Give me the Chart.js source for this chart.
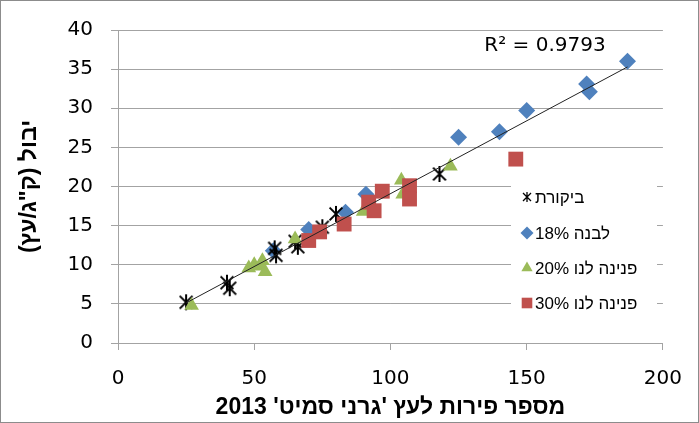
<!DOCTYPE html>
<html>
<head>
<meta charset="utf-8">
<script src="https://cdn.jsdelivr.net/npm/chart.js@4.4.1/dist/chart.umd.min.js"></script>
<style>
    html, body { margin: 0; padding: 0; background: #fff; }
    #wrap { width: 699px; height: 423px; }
</style>
</head>
<body>
<div id="wrap"><canvas id="yieldChart" dir="rtl" width="699" height="423"></canvas></div>
<script>
// ===== DATA =====
const seriesNames = ['ביקורת', 'לבנה 18%', 'פנינה לנו 20%', 'פנינה לנו 30%'];

const controlX = [25, 40, 41, 57.5, 58, 65, 66, 75, 80, 118];
const controlY = [5.2, 7.7, 7.0, 12.1, 11.2, 13.0, 12.3, 14.8, 16.5, 21.6];

const lavanX = [57, 70, 83.5, 91, 125, 140, 150, 172, 173, 187];
const lavanY = [11.8, 14.5, 16.7, 19.0, 26.3, 27.0, 29.7, 33.1, 32.1, 36.0];

const pnina20X = [27, 48, 50, 52, 53, 54, 65, 90, 104, 104.5, 122];
const pnina20Y = [4.8, 9.6, 10.0, 9.8, 10.5, 9.1, 13.3, 16.8, 20.8, 19.0, 22.6];

const pnina30X = [70, 74, 83, 92, 94, 97, 107, 107, 146];
const pnina30Y = [13.1, 14.2, 15.2, 18.0, 16.9, 19.4, 20.1, 18.4, 23.5];

const xTicks = [0, 50, 100, 150, 200];
const yTicks = [0, 5, 10, 15, 20, 25, 30, 35, 40];
const rSquaredLabel = 'R² = 0.9793';

const xTitle = "מספר פירות לעץ 'גרני סמיט' 2013";
const yTitle = 'יבול (ק"ג/עץ)';

// ===== HELPERS =====
function toPoints(xs, ys) {
    return xs.map((x, i) => ({ x: x, y: ys[i] }));
}

// least squares line over all the points
function trendPoints() {
    const xs = [].concat(controlX, lavanX, pnina20X, pnina30X);
    const ys = [].concat(controlY, lavanY, pnina20Y, pnina30Y);
    const n = xs.length;
    let sx = 0, sy = 0, sxx = 0, sxy = 0;
    for (let i = 0; i < n; i++) {
        sx += xs[i]; sy += ys[i];
        sxx += xs[i] * xs[i]; sxy += xs[i] * ys[i];
    }
    const b = (n * sxy - sx * sy) / (n * sxx - sx * sx);
    const a = (sy - b * sx) / n;
    const lo = Math.min.apply(null, xs);
    const hi = Math.max.apply(null, xs);
    return [{ x: lo, y: a + b * lo }, { x: hi, y: a + b * hi }];
}

// Excel style asterisk marker
function makeStar(size, lw) {
    const c = document.createElement('canvas');
    c.width = size; c.height = size;
    const g = c.getContext('2d');
    const m = size / 2, r = size / 2 - 1;
    g.strokeStyle = '#000';
    g.lineWidth = lw;
    g.beginPath();
    g.moveTo(m, m - r); g.lineTo(m, m + r);
    g.moveTo(m - r * 0.8, m - r * 0.8); g.lineTo(m + r * 0.8, m + r * 0.8);
    g.moveTo(m + r * 0.8, m - r * 0.8); g.lineTo(m - r * 0.8, m + r * 0.8);
    g.stroke();
    return c;
}

const starBig = makeStar(18, 2);
const starSmall = makeStar(12, 1.3);

const gridColor = '#a3a3a3';
const numFont = 'DejaVu Sans';
const hebFont = 'Liberation Sans';

// ===== PLUGINS =====
const legendBox = {
    id: 'legendBox',
    afterDatasetsDraw(chart) {
        const ctx = chart.ctx;
        ctx.save();
        ctx.fillStyle = '#fff';
        ctx.fillRect(511, 178, 146, 140);

        const rows = [197, 233, 268, 303];
        const styles = [
            { pointStyle: starSmall, radius: 5, color: '#000' },
            { pointStyle: 'rectRot', radius: 6.5, color: '#4f81bd' },
            { pointStyle: 'triangle', radius: 6.5, color: '#9bbb59' },
            { pointStyle: 'rect', radius: 7.5, color: '#c0504d' }
        ];
        ctx.font = '17px ' + hebFont;
        ctx.textAlign = 'left';
        ctx.textBaseline = 'middle';
        ctx.direction = 'rtl';
        rows.forEach((y, i) => {
            const st = styles[i];
            ctx.fillStyle = st.color;
            ctx.strokeStyle = st.color;
            ctx.lineWidth = 0;
            Chart.helpers.drawPoint(ctx, { pointStyle: st.pointStyle, radius: st.radius, rotation: 0, borderWidth: 0 }, 527, y);
            ctx.fillStyle = '#000';
            ctx.fillText(seriesNames[i], 535, y + 1);
        });
        ctx.restore();
    },
    afterDraw(chart) {
        const ctx = chart.ctx;
        ctx.save();
        ctx.font = '20px ' + numFont;
        ctx.fillStyle = '#000';
        ctx.textAlign = 'center';
        ctx.textBaseline = 'middle';
        ctx.direction = 'ltr';
        ctx.fillText(rSquaredLabel, 545, 46);
        ctx.strokeStyle = '#8c8c8c';
        ctx.lineWidth = 1;
        ctx.strokeRect(0.5, 0.5, 698, 422);
        ctx.restore();
    }
};

// ===== CHART =====
const ctx = document.getElementById('yieldChart').getContext('2d');
new Chart(ctx, {
    type: 'scatter',
    data: {
        datasets: [
            {
                type: 'line',
                label: 'trend',
                data: trendPoints(),
                borderColor: '#222',
                borderWidth: 1,
                pointRadius: 0,
                fill: false,
                order: 0
            },
            {
                label: seriesNames[3],
                data: toPoints(pnina30X, pnina30Y),
                pointStyle: 'rect',
                pointRadius: 10.5,
                backgroundColor: '#c0504d',
                borderColor: '#c0504d',
                borderWidth: 0,
                order: 1
            },
            {
                label: seriesNames[2],
                data: toPoints(pnina20X, pnina20Y),
                pointStyle: 'triangle',
                pointRadius: 8.5,
                backgroundColor: '#9bbb59',
                borderColor: '#9bbb59',
                borderWidth: 0,
                order: 2
            },
            {
                label: seriesNames[0],
                data: toPoints(controlX, controlY),
                pointStyle: starBig,
                pointRadius: 9,
                order: 3
            },
            {
                label: seriesNames[1],
                data: toPoints(lavanX, lavanY),
                pointStyle: 'rectRot',
                pointRadius: 8.5,
                backgroundColor: '#4f81bd',
                borderColor: '#4f81bd',
                borderWidth: 0,
                order: 4
            }
        ]
    },
    options: {
        responsive: false,
        animation: false,
        devicePixelRatio: 1,
        layout: { padding: { left: 0, top: 25, right: 25, bottom: 0 } },
        plugins: {
            legend: { display: false },
            tooltip: { enabled: false }
        },
        scales: {
            x: {
                type: 'linear',
                min: xTicks[0],
                max: xTicks[xTicks.length - 1],
                afterBuildTicks: s => { s.ticks = xTicks.map(v => ({ value: v })); },
                afterFit: s => { s.height = 80; },
                grid: { drawOnChartArea: false, tickLength: 7, color: gridColor },
                border: { color: gridColor },
                ticks: { color: '#000', padding: 17, font: { family: numFont, size: 20 } },
                title: {
                    display: true,
                    text: xTitle,
                    color: '#000',
                    font: { family: hebFont, size: 23, weight: 'bold' },
                    padding: { top: 0, bottom: 2 }
                }
            },
            y: {
                type: 'linear',
                min: yTicks[0],
                max: yTicks[yTicks.length - 1],
                afterBuildTicks: s => { s.ticks = yTicks.map(v => ({ value: v })); },
                afterFit: s => { s.width = 118; },
                grid: { tickLength: 7, color: gridColor },
                border: { color: gridColor },
                ticks: { color: '#000', padding: 18, font: { family: numFont, size: 20 } },
                title: {
                    display: true,
                    text: yTitle,
                    color: '#000',
                    font: { family: hebFont, size: 23, weight: 'bold' },
                    padding: { top: 16, bottom: 0 }
                }
            }
        }
    },
    plugins: [legendBox]
});
</script>
</body>
</html>
